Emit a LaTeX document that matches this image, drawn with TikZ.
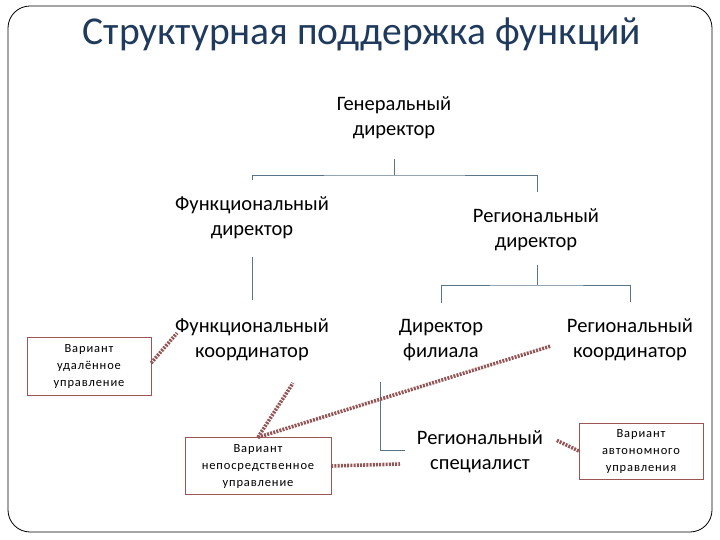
\documentclass[tikz,border=0pt]{standalone}
\usepackage{fontspec}
\setmainfont{Carlito}
\newfontfamily\boxfont[LetterSpace=7]{Carlito}
\usepackage{xcolor}
\usetikzlibrary{positioning,calc}

\definecolor{titleblue}{HTML}{1F3A5C}
\definecolor{treeline}{HTML}{5C7488}
\definecolor{variantred}{HTML}{9A5555}
\definecolor{dotred}{HTML}{935555}

\tikzset{
  post/.style={align=center, font=\fontsize{20.5}{25}\selectfont},
  variant/.style={draw=variantred, thin, align=center, inner sep=0pt,
    font=\boxfont\fontsize{12.5}{17}\selectfont},
  tree/.style={draw=treeline, line width=0.8pt},
  dotlink/.style={draw=dotred, line width=3.6pt, dash pattern=on 2pt off 1.2pt}
}

\begin{document}
\begin{tikzpicture}[x=1pt, y=-1pt]
    \useasboundingbox (0,0) rectangle (720,540);
    % frame
    \draw[line width=0.8pt, rounded corners=22pt] (8,6) rectangle (712,532);

    \node[titleblue, font=\fontsize{39.5}{42}\selectfont] (title) at (362,34) {Структурная поддержка функций};

    % posts
    \node[post] (gd) at (394,118) {Генеральный\\директор};
    \node[post] (fd) at (252,218) {Функциональный\\директор};
    \node[post] (rd) at (536,230) {Региональный\\директор};
    \node[post] (fk) at (252,340) {Функциональный\\координатор};
    \node[post] (df) at (441,340) {Директор\\филиала};
    \node[post] (rk) at (630,340) {Региональный\\координатор};
    \node[post] (rs) at (480,452) {Региональный\\специалист};

    % variants
    \node[variant, minimum width=124pt, minimum height=58pt] (v1) at (89,366) {Вариант\\удалённое\\управление};
    \node[variant, minimum width=146pt, minimum height=57pt] (v2) at (258,466) {Вариант\\непосредственное\\управление};
    \node[variant, minimum width=124pt, minimum height=56pt] (v3) at (641,451) {Вариант\\автономного\\управления};

    % tree lines
    \coordinate (gdtop) at (394,175);
    \coordinate (rdtop) at (537,285);
    \draw[tree] ([yshift=-16pt]gd.south) -- (gdtop);
    \draw[tree] ([yshift=13pt]fd.north) |- (gdtop) -| ([yshift=13pt]rd.north -| 537,0);
    \draw[tree] ([yshift=-14pt]fd.south) -- ([yshift=15pt]fk.north);
    \draw[tree] ([yshift=-10pt]rd.south -| rdtop) -- (rdtop);
    \draw[tree] ([yshift=13pt]df.north) |- (rdtop) -| ([yshift=13pt]rk.north);
    \draw[tree] ([yshift=-18pt]df.south -| 380,0) |- ([xshift=-8pt]rs.west |- 0,450);

    % dotted links
    \draw[dotlink] (v1.east |- 0,363) -- (177,333);
    \draw[dotlink] (v2.north) -- (293,383);
    \draw[dotlink] (v2.north) -- (551,346);
    \draw[dotlink] (v2.east) -- (400,464);
    \draw[dotlink] (v3.west) -- (556,440);
\end{tikzpicture}
\end{document}
